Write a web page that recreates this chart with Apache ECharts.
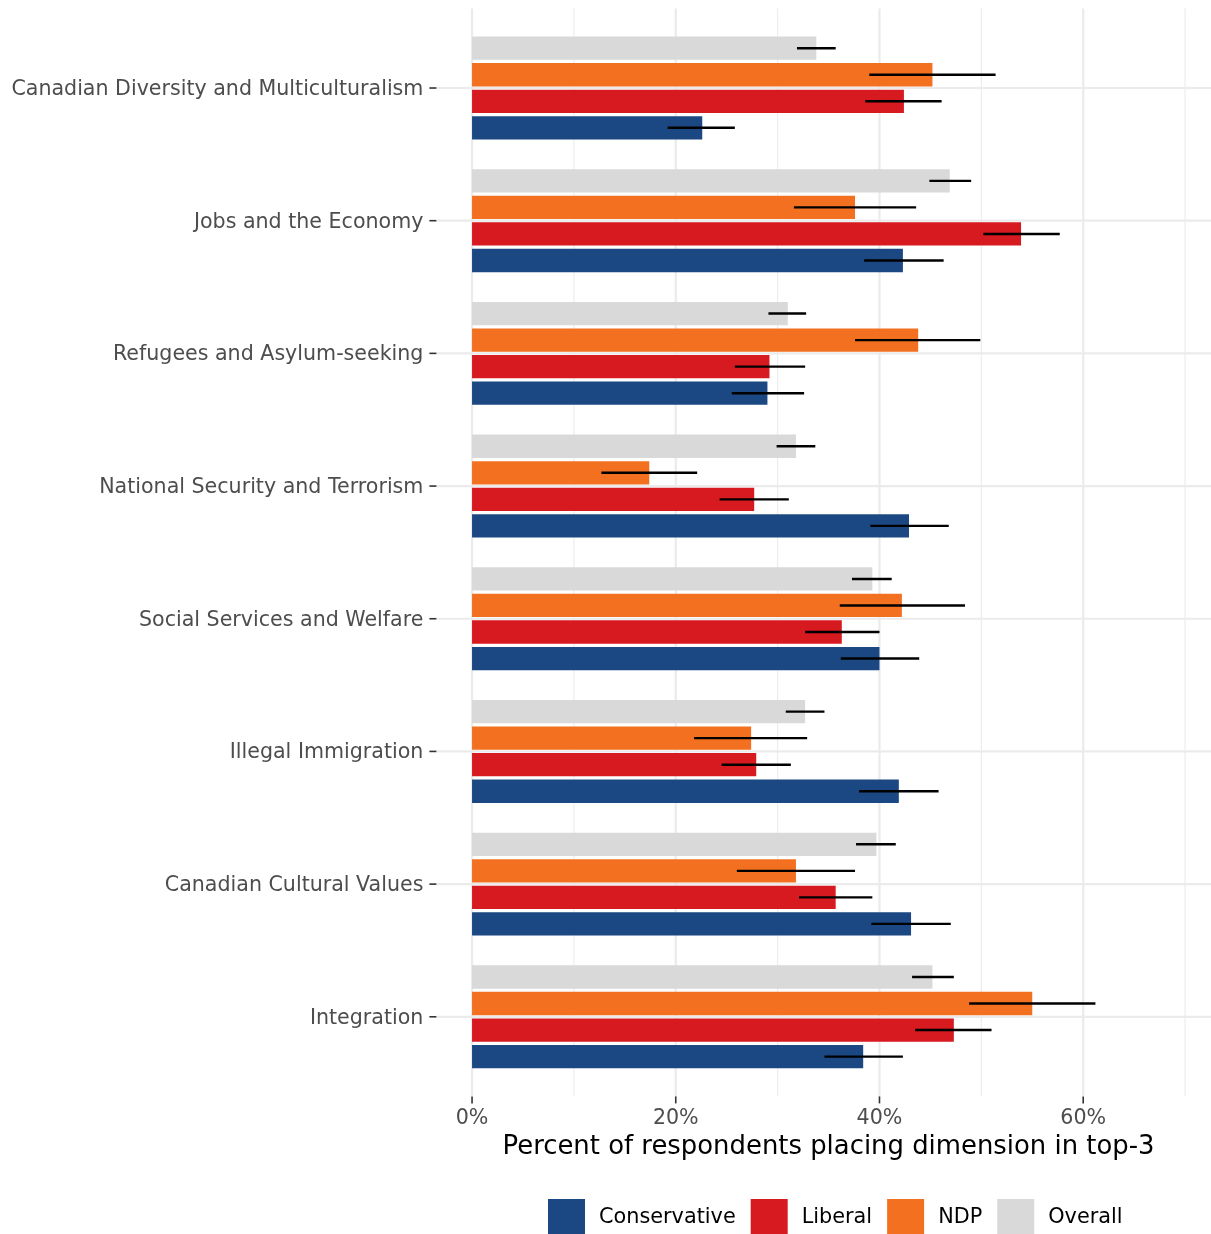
<!DOCTYPE html>
<html>
<head>
<meta charset="utf-8">
<script src="https://cdn.jsdelivr.net/npm/echarts@6/dist/echarts.min.js"></script>
<style>
html,body{margin:0;padding:0;background:#ffffff;}
#chart{width:1211px;height:1234px;}
</style>
</head>
<body>
<div id="chart"></div>
<script>
// ---- data (percent of respondents placing dimension in top-3) ----
const categories = [
  "Canadian Diversity and Multiculturalism",
  "Jobs and the Economy",
  "Refugees and Asylum-seeking",
  "National Security and Terrorism",
  "Social Services and Welfare",
  "Illegal Immigration",
  "Canadian Cultural Values",
  "Integration"
];

const overallPct  = [33.8, 46.9, 31.0, 31.8, 39.3, 32.7, 39.7, 45.2];
const overallLow  = [31.9, 44.9, 29.1, 29.9, 37.3, 30.8, 37.7, 43.2];
const overallHigh = [35.7, 49.0, 32.8, 33.7, 41.2, 34.6, 41.6, 47.3];

const ndpPct  = [45.2, 37.6, 43.8, 17.4, 42.2, 27.4, 31.8, 55.0];
const ndpLow  = [39.0, 31.6, 37.6, 12.7, 36.1, 21.8, 26.0, 48.8];
const ndpHigh = [51.4, 43.6, 49.9, 22.1, 48.4, 32.9, 37.6, 61.2];

const liberalPct  = [42.4, 53.9, 29.2, 27.7, 36.3, 27.9, 35.7, 47.3];
const liberalLow  = [38.6, 50.2, 25.8, 24.3, 32.7, 24.5, 32.1, 43.5];
const liberalHigh = [46.1, 57.7, 32.7, 31.1, 40.0, 31.3, 39.3, 51.0];

const conservativePct  = [22.6, 42.3, 29.0, 42.9, 40.0, 41.9, 43.1, 38.4];
const conservativeLow  = [19.2, 38.5, 25.5, 39.1, 36.2, 38.0, 39.2, 34.6];
const conservativeHigh = [25.8, 46.3, 32.6, 46.8, 43.9, 45.8, 47.0, 42.3];

const legendOrder = ["Conservative", "Liberal", "NDP", "Overall"];
const xTickValues = [0, 20, 40, 60];
const xMajorGrid = [0, 20, 40, 60];
const xMinorGrid = [10, 30, 50, 70];
const xMin = -3.5, xMax = 73.5;

// ---- styling ----
const FONT = "DejaVu Sans";
const colors = {
  Conservative: "#1b4882",
  Liberal: "#d71920",
  NDP: "#f37021",
  Overall: "#d9d9d9"
};
const yMin = -0.6, yMax = categories.length - 1 + 0.6;
const catIndex = categories.map((c, i) => i);

const groups = [
  { name: "Overall", slot: 0, pct: overallPct, low: overallLow, high: overallHigh },
  { name: "NDP", slot: 1, pct: ndpPct, low: ndpLow, high: ndpHigh },
  { name: "Liberal", slot: 2, pct: liberalPct, low: liberalLow, high: liberalHigh },
  { name: "Conservative", slot: 3, pct: conservativePct, low: conservativeLow, high: conservativeHigh }
];

const TICK_LEN = 7;
const guideSeries = [
  {
    type: "custom", name: "_vgrid", silent: true, z: 1,
    data: xMajorGrid.map(v => [v, 0, 1]).concat(xMinorGrid.map(v => [v, 0, 0])),
    encode: { x: 0, y: 1 },
    renderItem: function (params, api) {
      const a = api.coord([api.value(0), yMin]);
      const b = api.coord([api.value(0), yMax]);
      return { type: "line", shape: { x1: a[0], y1: a[1], x2: b[0], y2: b[1] },
        style: { stroke: "#ebebeb", lineWidth: api.value(2) ? 2.2 : 1.1 } };
    }
  },
  {
    type: "custom", name: "_hgrid", silent: true, z: 1,
    data: catIndex.map(i => [0, i]),
    encode: { x: 0, y: 1 },
    renderItem: function (params, api) {
      const a = api.coord([xMin, api.value(1)]);
      const b = api.coord([xMax, api.value(1)]);
      return { type: "line", shape: { x1: a[0], y1: a[1], x2: b[0], y2: b[1] },
        style: { stroke: "#ebebeb", lineWidth: 2.2 } };
    }
  },
  {
    type: "custom", name: "_yticks", silent: true, z: 2, clip: false,
    data: catIndex.map(i => [xMin, i]),
    encode: { x: 0, y: 1 },
    renderItem: function (params, api) {
      const a = api.coord([xMin, api.value(1)]);
      return { type: "line", shape: { x1: a[0] - TICK_LEN, y1: a[1], x2: a[0], y2: a[1] },
        style: { stroke: "#333333", lineWidth: 1.6 } };
    }
  },
  {
    type: "custom", name: "_xticks", silent: true, z: 2, clip: false,
    data: xTickValues.map(v => [v, yMax]),
    encode: { x: 0, y: 1 },
    renderItem: function (params, api) {
      const a = api.coord([api.value(0), yMax]);
      return { type: "line", shape: { x1: a[0], y1: a[1], x2: a[0], y2: a[1] + TICK_LEN },
        style: { stroke: "#333333", lineWidth: 1.6 } };
    }
  }
];

const barSeries = groups.map(g => ({
  type: "custom",
  name: g.name,
  z: 3,
  itemStyle: { color: colors[g.name] },
  data: categories.map((c, i) => [g.pct[i], i, g.low[i], g.high[i]]),
  encode: { x: 0, y: 1 },
  renderItem: function (params, api) {
    const cat = api.value(1);
    const step = api.size([0, 1])[1];
    const off = (g.slot - 1.5) * 0.2 * step;
    const h = 0.1756 * step;
    const p0 = api.coord([0, cat]);
    const p1 = api.coord([api.value(0), cat]);
    const e0 = api.coord([api.value(2), cat]);
    const e1 = api.coord([api.value(3), cat]);
    const y = p0[1] + off;
    return {
      type: "group",
      children: [
        { type: "rect", shape: { x: p0[0], y: y - h / 2, width: p1[0] - p0[0], height: h },
          style: { fill: colors[g.name] } },
        { type: "line", z2: 10, shape: { x1: e0[0], y1: y, x2: e1[0], y2: y },
          style: { stroke: "#000000", lineWidth: 2.4 } }
      ]
    };
  }
}));

const chart = echarts.init(document.getElementById("chart"), null, { renderer: "canvas" });
chart.setOption({
  animation: false,
  backgroundColor: "#ffffff",
  textStyle: { fontFamily: FONT },
  grid: { left: 436.4, top: 8.4, width: 784.3, height: 1088.0, containLabel: false, outerBoundsMode: "none" },
  xAxis: {
    type: "value",
    min: xMin, max: xMax,
    axisLine: { show: false },
    splitLine: { show: false },
    axisTick: { show: false },
    axisLabel: {
      customValues: xTickValues,
      formatter: v => v + "%",
      color: "#4d4d4d", fontSize: 20.6, fontFamily: FONT, margin: 12
    },
    name: "Percent of respondents placing dimension in top-3",
    nameLocation: "middle",
    nameGap: 36,
    nameTextStyle: { color: "#000000", fontSize: 25.9, fontFamily: FONT }
  },
  yAxis: {
    type: "value",
    inverse: true,
    min: yMin, max: yMax,
    axisLine: { show: false },
    splitLine: { show: false },
    axisTick: { show: false },
    axisLabel: {
      customValues: catIndex,
      formatter: v => categories[Math.round(v)],
      color: "#4d4d4d", fontSize: 20.6, fontFamily: FONT, margin: 13,
      verticalAlign: "top", lineHeight: 3
    }
  },
  legend: {
    data: legendOrder,
    left: 548, top: 1199,
    padding: 0,
    orient: "horizontal",
    icon: "rect",
    itemWidth: 37, itemHeight: 37,
    itemGap: 15,
    textStyle: { color: "#000000", fontSize: 20.8, fontFamily: FONT, padding: [0, 0, 0, 9] },
    selectedMode: false
  },
  series: guideSeries.concat(barSeries)
});
</script>
</body>
</html>
